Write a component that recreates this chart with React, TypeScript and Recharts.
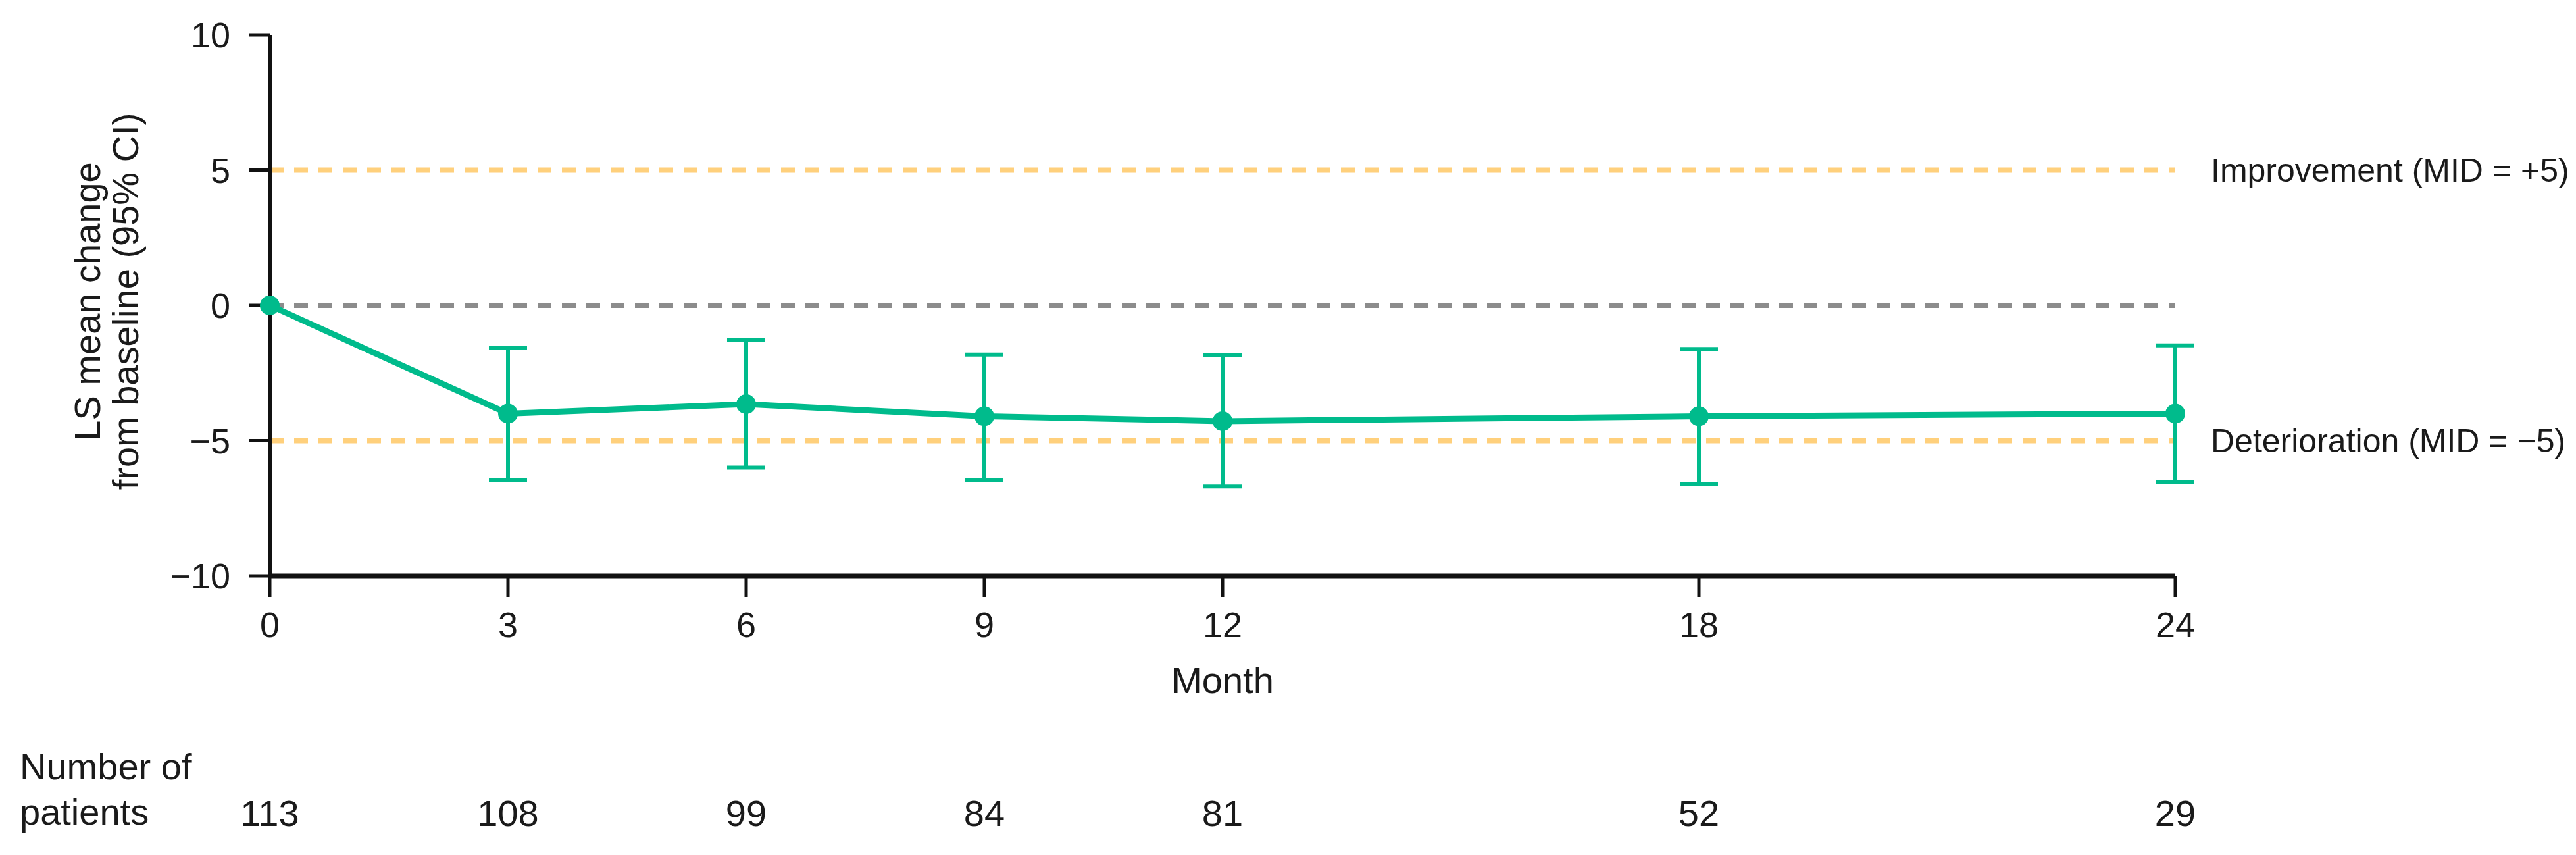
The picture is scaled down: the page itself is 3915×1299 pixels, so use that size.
import { ComposedChart, Line, XAxis, YAxis, ReferenceLine, ErrorBar, Label } from 'recharts'

// values
const months = [0, 3, 6, 9, 12, 18, 24]
const lsMean = [0, -4.0, -3.65, -4.1, -4.28, -4.1, -4.0]
const ciLower = [null, -6.45, -6.0, -6.45, -6.7, -6.62, -6.52]
const ciUpper = [null, -1.56, -1.27, -1.82, -1.85, -1.61, -1.48]
const patients = [113, 108, 99, 84, 81, 52, 29]
const yTicks = [-10, -5, 0, 5, 10]

const data = months.map((m, i) => ({
	month: m,
	mean: lsMean[i],
	err:
		ciLower[i] === null || ciUpper[i] === null
			? null
			: [lsMean[i] - (ciLower[i] as number), (ciUpper[i] as number) - lsMean[i]],
}))

const TEAL = '#00BB8C'
const ORANGE = '#FFD07C'
const GREY = '#8C8C8C'
const FONT = '"Liberation Sans", Arial, sans-serif'

const fmtY = (v: number) => (v < 0 ? `\u2212${Math.abs(v)}` : `${v}`)

const YLabel = (props: any) => {
	const vb = props.viewBox || { x: 0, y: 0, width: 0, height: 0 }
	const cy = vb.y + vb.height / 2 - 6
	return (
		<g fontFamily={FONT} fontSize={56} fill='#1a1a1a'>
			<text x={144} y={cy} textAnchor='middle' transform={`rotate(-90 144 ${cy})`}>
				LS mean change
			</text>
			<text x={202} y={cy} textAnchor='middle' transform={`rotate(-90 202 ${cy})`}>
				from baseline (95% CI)
			</text>
		</g>
	)
}

const PatientsLabel = () => (
	<g fontFamily={FONT} fontSize={56} fill='#1a1a1a'>
		<text x={22} y={1176}>Number of</text>
		<text x={22} y={1245}>patients</text>
	</g>
)

export default function App() {
	return (
		<div style={{ width: 3907, height: 1291, fontFamily: FONT, background: '#fff' }}>
			<ComposedChart
				width={3907}
				height={1291}
				data={data}
				margin={{ top: 45, right: 609, bottom: 34, left: 0 }}>
				<XAxis
					dataKey='month'
					type='number'
					domain={[0, 24]}
					ticks={months}
					interval={0}
					height={190}
					tickSize={32}
					tickMargin={23}
					axisLine={{ stroke: '#111', strokeWidth: 7 }}
					tickLine={{ stroke: '#111', strokeWidth: 5 }}
					tick={{ fontSize: 54, fill: '#1a1a1a', fontFamily: FONT }}>
					<Label
						value='Month'
						position='insideBottom'
						offset={12}
						style={{ fontSize: 56, fill: '#1a1a1a', fontFamily: FONT }}
					/>
				</XAxis>
				<XAxis
					xAxisId='n'
					dataKey='month'
					type='number'
					domain={[0, 24]}
					ticks={months}
					interval={0}
					height={200}
					tickSize={0}
					tickMargin={150}
					axisLine={false}
					tickLine={false}
					tickFormatter={(v: number) => `${patients[months.indexOf(v)]}`}
					tick={{ fontSize: 56, fill: '#1a1a1a', fontFamily: FONT }}>
					<Label content={<PatientsLabel />} />
				</XAxis>
				<YAxis
					type='number'
					domain={[-10, 10]}
					ticks={yTicks}
					interval={0}
					width={402}
					tickSize={32}
					tickMargin={28}
					tickFormatter={fmtY}
					axisLine={{ stroke: '#111', strokeWidth: 6 }}
					tickLine={{ stroke: '#111', strokeWidth: 5 }}
					tick={{ fontSize: 54, fill: '#1a1a1a', fontFamily: FONT }}>
					<Label content={<YLabel />} />
				</YAxis>
				<ReferenceLine y={0} stroke={GREY} strokeWidth={8} strokeDasharray='21 16' />
				<ReferenceLine y={5} stroke={ORANGE} strokeWidth={8} strokeDasharray='21 16'>
					<Label
						value='Improvement (MID = +5)'
						position='right'
						offset={54}
						style={{ fontSize: 50, fill: '#1a1a1a', fontFamily: FONT }}
					/>
				</ReferenceLine>
				<ReferenceLine y={-5} stroke={ORANGE} strokeWidth={8} strokeDasharray='21 16'>
					<Label
						value={'Deterioration (MID = \u22125)'}
						position='right'
						offset={54}
						style={{ fontSize: 50, fill: '#1a1a1a', fontFamily: FONT }}
					/>
				</ReferenceLine>
				<Line
					dataKey='mean'
					stroke={TEAL}
					strokeWidth={9}
					dot={{ r: 15, fill: TEAL, stroke: TEAL, strokeWidth: 0 }}
					activeDot={false}
					isAnimationActive={false}>
					<ErrorBar
						dataKey='err'
						direction='y'
						width={29}
						stroke={TEAL}
						strokeWidth={6}
						isAnimationActive={false}
					/>
				</Line>
			</ComposedChart>
		</div>
	)
}
